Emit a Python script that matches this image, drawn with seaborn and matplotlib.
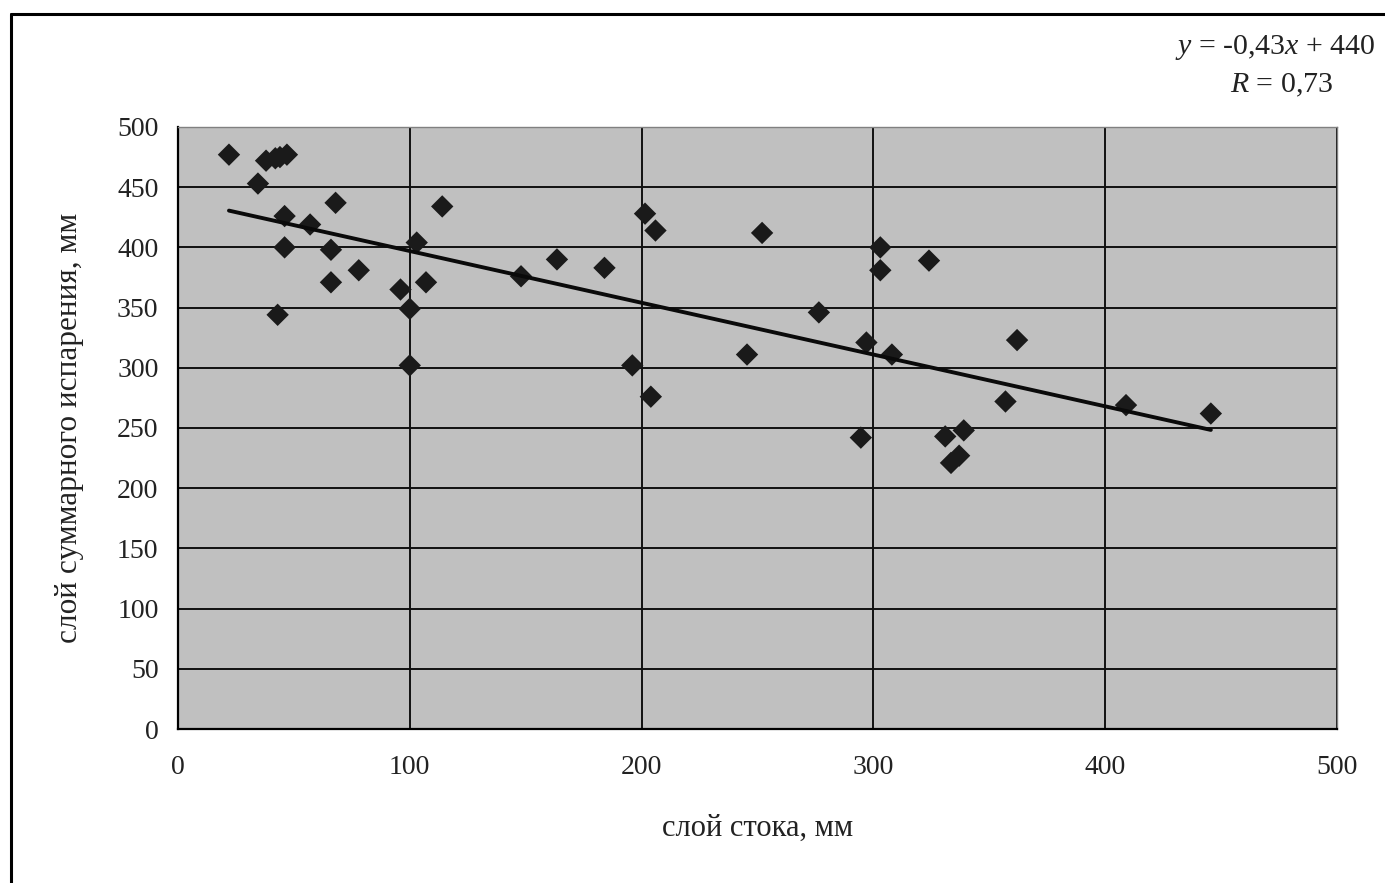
import matplotlib
matplotlib.use("Agg")
import matplotlib.pyplot as plt
import seaborn as sns
import numpy as np
import pandas as pd

# data
runoff = [22, 34.5, 38, 42, 44, 47, 46, 46, 43, 57, 66, 66, 68, 78, 96, 100, 100,
          103, 107, 114, 148, 163.5, 184, 201.5, 206, 196, 204, 245.5, 252, 276.5,
          294.6, 297, 303, 303, 308, 324, 331, 339, 333.5, 337, 357, 362, 409, 445.6]
evap = [477, 453, 472, 474, 475, 477, 426, 400, 344, 419, 398, 371, 437, 381, 365,
        349, 302, 404, 371, 434, 376, 390, 383, 428, 414, 302, 276, 311, 412, 346,
        242, 321, 400, 381, 311, 389, 243, 248, 221, 227, 272, 323, 269, 262]
slope = -0.43
intercept = 440
eq_text = "$y$ = -0,43$x$ + 440"
r_text = "$R$ = 0,73"
xticks = [0, 100, 200, 300, 400, 500]
yticks = [0, 50, 100, 150, 200, 250, 300, 350, 400, 450, 500]
xlabel = "слой стока, мм"
ylabel = "слой суммарного испарения, мм"

sns.set_style("white")
plt.rcParams["font.family"] = ["Liberation Serif", "DejaVu Serif"]
plt.rcParams["mathtext.fontset"] = "custom"
plt.rcParams["mathtext.it"] = "Liberation Serif:italic"
plt.rcParams["mathtext.rm"] = "Liberation Serif"

df = pd.DataFrame({"x": runoff, "y": evap})
xs = np.array([min(runoff), max(runoff)])
line_df = pd.DataFrame({"x": xs, "y": slope * xs + intercept})

fig = plt.figure(figsize=(13.85, 8.83), dpi=100)
ax = fig.add_axes([0.1285, 0.1744, 0.8368, 0.6818])
ax.set_facecolor("#c0c0c0")

sns.scatterplot(data=df, x="x", y="y", marker="D", s=130, color="#1a1a1a",
                edgecolor="none", ax=ax, zorder=3)
sns.lineplot(data=line_df, x="x", y="y", color="#0a0a0a", linewidth=2.8, ax=ax, zorder=4)

ax.set_xlim(0, 500)
ax.set_ylim(0, 500)
ax.set_xticks(xticks)
ax.set_yticks(yticks)
ax.set_xticklabels([str(t) for t in xticks])
ax.set_yticklabels([str(t) for t in yticks])
ax.grid(True, color="#111111", linewidth=1.4)
ax.set_axisbelow(True)
for s in ["left", "bottom"]:
    ax.spines[s].set_color("black")
    ax.spines[s].set_linewidth(1.6)
for s in ["top", "right"]:
    ax.spines[s].set_color("#808080")
    ax.spines[s].set_linewidth(1.0)
ax.tick_params(axis="both", direction="out", length=7, width=1.4, color="black",
               labelsize=20, labelcolor="#222222")
ax.tick_params(axis="x", pad=12)
ax.tick_params(axis="y", pad=7)

ax.set_xlabel(xlabel, fontsize=22, labelpad=24, color="#222222")
ax.set_ylabel(ylabel, fontsize=22.5, labelpad=24, color="#222222")

fig.text(0.993, 0.946, eq_text, ha="right", va="center", fontsize=21.5, color="#222222")
fig.text(0.963, 0.903, r_text, ha="right", va="center", fontsize=21.5, color="#222222")

# outer frame (left and top edges visible)
fig.add_artist(plt.Line2D([0.008, 0.008], [0.0, 0.984], transform=fig.transFigure,
                          color="black", linewidth=2.2))
fig.add_artist(plt.Line2D([0.008, 1.0], [0.984, 0.984], transform=fig.transFigure,
                          color="black", linewidth=2.2))

fig.savefig("out.png", dpi=100)
